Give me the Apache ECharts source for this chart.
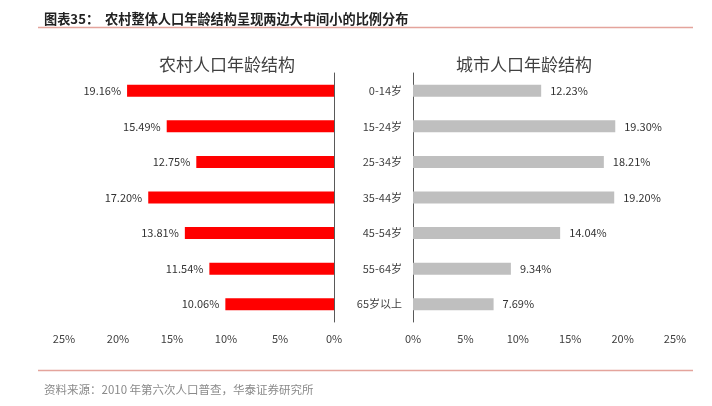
<!DOCTYPE html>
<html>
<head>
<meta charset="utf-8">
<script src="https://cdn.jsdelivr.net/npm/echarts@6/dist/echarts.min.js"></script>
<style>
html,body{margin:0;padding:0;background:#fff;}
#chart{width:712px;height:406px;}
</style>
</head>
<body>
<div id="chart"></div>
<script>
const categories = ['0-14岁','15-24岁','25-34岁','35-44岁','45-54岁','55-64岁','65岁以上'];
const ruralValues = [19.16, 15.49, 12.75, 17.20, 13.81, 11.54, 10.06];
const urbanValues = [12.23, 19.30, 18.21, 19.20, 14.04, 9.34, 7.69];
const axisTicks = [0, 5, 10, 15, 20, 25];
const headerText = '图表35：  农村整体人口年龄结构呈现两边大中间小的比例分布';
const ruralTitle = '农村人口年龄结构';
const urbanTitle = '城市人口年龄结构';
const sourceText = '资料来源：2010 年第六次人口普查，华泰证券研究所';

const FONT = '"Noto Sans CJK SC", "Microsoft YaHei", sans-serif';
const chart = echarts.init(document.getElementById('chart'));

const xMax = axisTicks[axisTicks.length - 1];
const xInterval = axisTicks[1] - axisTicks[0];

chart.setOption({
  backgroundColor: '#fff',
  animation: false,
  textStyle: { fontFamily: FONT },
  title: [
    { text: headerText, left: 39, top: 7, textStyle: { fontSize: 13.2, fontWeight: 'bold', color: '#222', fontFamily: FONT } },
    { text: ruralTitle, left: 222, top: 51, textAlign: 'center', textStyle: { fontSize: 17, fontWeight: 'normal', color: '#404040', fontFamily: FONT } },
    { text: urbanTitle, left: 519, top: 51, textAlign: 'center', textStyle: { fontSize: 17, fontWeight: 'normal', color: '#404040', fontFamily: FONT } },
    { text: sourceText, left: 39, top: 379, textStyle: { fontSize: 11.5, fontWeight: 'normal', color: '#8a8a8a', fontFamily: FONT } }
  ],
  graphic: [
    { type: 'line', shape: { x1: 38, y1: 27.5, x2: 693, y2: 27.5 }, style: { stroke: '#e4a49c', lineWidth: 1.5 } },
    { type: 'line', shape: { x1: 38, y1: 370.5, x2: 693, y2: 370.5 }, style: { stroke: '#e4a49c', lineWidth: 1.5 } }
  ],
  grid: [
    { left: 64, width: 270, top: 73, height: 249, containLabel: false },
    { left: 413, width: 262, top: 73, height: 249, containLabel: false }
  ],
  xAxis: [
    {
      gridIndex: 0, type: 'value', inverse: true, min: 0, max: xMax, interval: xInterval,
      axisLine: { show: false }, axisTick: { show: false }, splitLine: { show: false },
      axisLabel: { formatter: '{value}%', fontSize: 11, color: '#404040', margin: 11 }
    },
    {
      gridIndex: 1, type: 'value', min: 0, max: xMax, interval: xInterval,
      axisLine: { show: false }, axisTick: { show: false }, splitLine: { show: false },
      axisLabel: { formatter: '{value}%', fontSize: 11, color: '#404040', margin: 11 }
    }
  ],
  yAxis: [
    {
      gridIndex: 0, type: 'category', data: categories, inverse: true, position: 'right',
      axisLine: { show: true, onZero: false, lineStyle: { color: '#595959', width: 1 } },
      axisTick: { show: false }, axisLabel: { show: false }
    },
    {
      gridIndex: 1, type: 'category', data: categories, inverse: true, position: 'left',
      axisLine: { show: true, onZero: false, lineStyle: { color: '#595959', width: 1 } },
      axisTick: { show: false },
      axisLabel: { fontSize: 11, color: '#404040', margin: 11 }
    }
  ],
  series: [
    {
      type: 'bar', xAxisIndex: 0, yAxisIndex: 0, data: ruralValues, barWidth: 12,
      itemStyle: { color: '#ff0000' },
      label: { show: true, position: 'left', distance: 6, fontSize: 11, color: '#333',
        formatter: p => p.value.toFixed(2) + '%' }
    },
    {
      type: 'bar', xAxisIndex: 1, yAxisIndex: 1, data: urbanValues, barWidth: 12,
      itemStyle: { color: '#bfbfbf' },
      label: { show: true, position: 'right', distance: 9, fontSize: 11, color: '#333',
        formatter: p => p.value.toFixed(2) + '%' }
    }
  ]
});
</script>
</body>
</html>
